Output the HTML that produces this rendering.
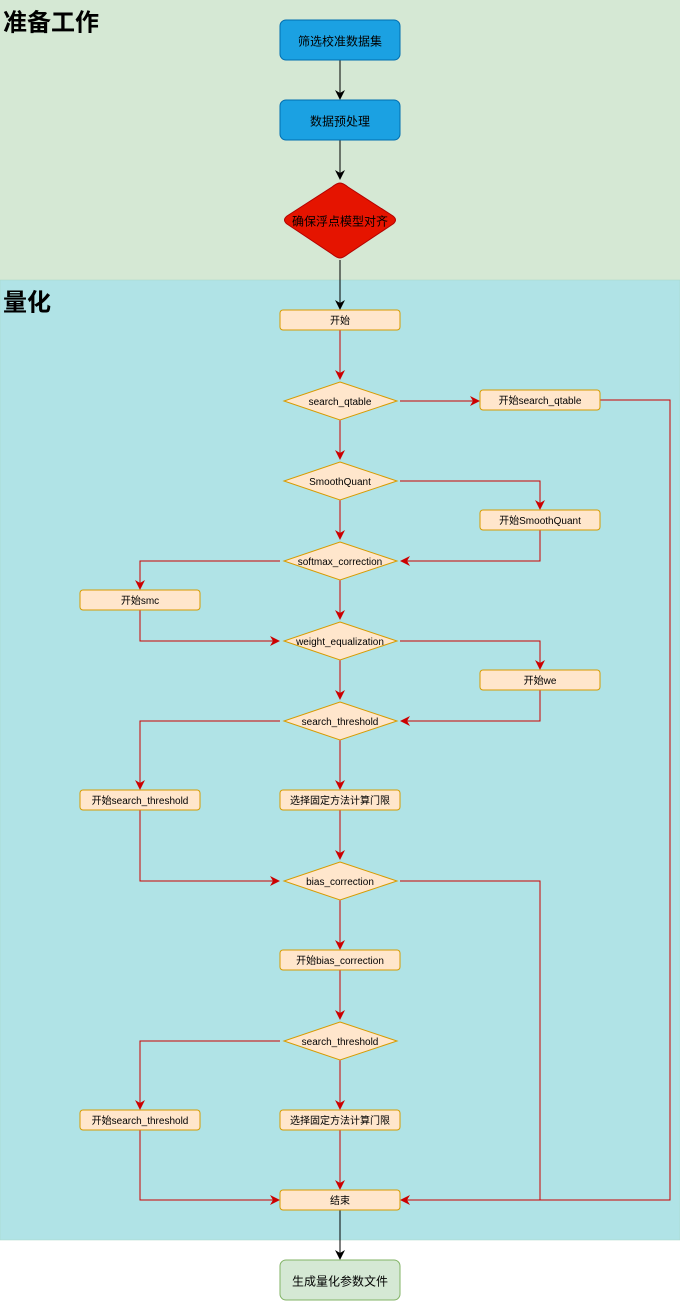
<!DOCTYPE html>
<html><head><meta charset="utf-8"><style>
html,body{margin:0;padding:0;background:#fff}
svg{display:block}
text{font-family:"Liberation Sans","Noto Sans CJK SC",sans-serif;font-size:10px;fill:#000;text-anchor:middle;dominant-baseline:central}
.o{fill:#ffe6cc;stroke:#d79b00;stroke-width:1}
.r{fill:none;stroke:#cc0000;stroke-width:1}
.k{fill:none;stroke:#000;stroke-width:1}
</style></head><body>
<svg width="680" height="1301" viewBox="0 0 680 1301" xmlns="http://www.w3.org/2000/svg">
<defs>
<marker id="ar" viewBox="0 0 10 10" refX="9" refY="5" markerWidth="10" markerHeight="10" orient="auto" markerUnits="userSpaceOnUse"><path d="M0,0 L10,5 L0,10 L3,5 z" fill="#cc0000"/></marker>
<marker id="ak" viewBox="0 0 10 10" refX="9" refY="5" markerWidth="10" markerHeight="10" orient="auto" markerUnits="userSpaceOnUse"><path d="M0,0 L10,5 L0,10 L3,5 z" fill="#000"/></marker>
</defs>
<rect x="0" y="0" width="680" height="280" fill="#d5e8d4"/>
<rect x="0" y="280" width="680" height="960" fill="#b0e3e6" stroke="#a8d8c8" stroke-width="0.5"/>
<g transform="translate(0,1)">
<text x="3" y="22" style="font-size:24px;font-weight:bold;text-anchor:start">准备工作</text>
<text x="3" y="302" style="font-size:24px;font-weight:bold;text-anchor:start">量化</text>
</g>

<path class="k" d="M340,60 V99" marker-end="url(#ak)"/>
<path class="k" d="M340,140 V179" marker-end="url(#ak)"/>
<path class="k" d="M340,260 V309" marker-end="url(#ak)"/>
<path class="k" d="M340,1210 V1259" marker-end="url(#ak)"/>

<path class="r" d="M340,330 V379" marker-end="url(#ar)"/>
<path class="r" d="M400,401 H479" marker-end="url(#ar)"/>
<path class="r" d="M600,400 H670 V1200 H401" marker-end="url(#ar)"/>
<path class="r" d="M340,420 V459" marker-end="url(#ar)"/>
<path class="r" d="M400,481 H540 V509" marker-end="url(#ar)"/>
<path class="r" d="M540,530 V561 H401" marker-end="url(#ar)"/>
<path class="r" d="M340,500 V539" marker-end="url(#ar)"/>
<path class="r" d="M280,561 H140 V589" marker-end="url(#ar)"/>
<path class="r" d="M140,610 V641 H279" marker-end="url(#ar)"/>
<path class="r" d="M340,580 V619" marker-end="url(#ar)"/>
<path class="r" d="M400,641 H540 V669" marker-end="url(#ar)"/>
<path class="r" d="M540,690 V721 H401" marker-end="url(#ar)"/>
<path class="r" d="M340,660 V699" marker-end="url(#ar)"/>
<path class="r" d="M280,721 H140 V789" marker-end="url(#ar)"/>
<path class="r" d="M340,740 V789" marker-end="url(#ar)"/>
<path class="r" d="M140,810 V881 H279" marker-end="url(#ar)"/>
<path class="r" d="M340,810 V859" marker-end="url(#ar)"/>
<path class="r" d="M400,881 H540 V1200"/>
<path class="r" d="M340,900 V949" marker-end="url(#ar)"/>
<path class="r" d="M340,970 V1019" marker-end="url(#ar)"/>
<path class="r" d="M280,1041 H140 V1109" marker-end="url(#ar)"/>
<path class="r" d="M340,1060 V1109" marker-end="url(#ar)"/>
<path class="r" d="M140,1130 V1200 H279" marker-end="url(#ar)"/>
<path class="r" d="M340,1130 V1189" marker-end="url(#ar)"/>

<rect x="280" y="20" width="120" height="40" rx="6" fill="#1ba1e2" stroke="#006eaf"/>
<rect x="280" y="100" width="120" height="40" rx="6" fill="#1ba1e2" stroke="#006eaf"/>
<path d="M340,183 Q343,183 348,187 L393,216 Q398,220 393,224 L348,254 Q343,258 340,258 Q337,258 332,254 L287,224 Q282,220 287,216 L332,187 Q337,183 340,183 z" fill="#e51400" stroke="#b20000"/>

<rect class="o" x="280" y="310" width="120" height="20" rx="3"/>
<path class="o" d="M340,382 L397,401 L340,420 L284,401 z"/>
<path class="o" d="M340,462 L397,481 L340,500 L284,481 z"/>
<path class="o" d="M340,542 L397,561 L340,580 L284,561 z"/>
<path class="o" d="M340,622 L397,641 L340,660 L284,641 z"/>
<path class="o" d="M340,702 L397,721 L340,740 L284,721 z"/>
<path class="o" d="M340,862 L397,881 L340,900 L284,881 z"/>
<path class="o" d="M340,1022 L397,1041 L340,1060 L284,1041 z"/>
<rect class="o" x="480" y="390" width="120" height="20" rx="3"/>
<rect class="o" x="480" y="510" width="120" height="20" rx="3"/>
<rect class="o" x="80" y="590" width="120" height="20" rx="3"/>
<rect class="o" x="480" y="670" width="120" height="20" rx="3"/>
<rect class="o" x="80" y="790" width="120" height="20" rx="3"/>
<rect class="o" x="280" y="790" width="120" height="20" rx="3"/>
<rect class="o" x="280" y="950" width="120" height="20" rx="3"/>
<rect class="o" x="80" y="1110" width="120" height="20" rx="3"/>
<rect class="o" x="280" y="1110" width="120" height="20" rx="3"/>
<rect class="o" x="280" y="1190" width="120" height="20" rx="3"/>
<rect x="280" y="1260" width="120" height="40" rx="6" fill="#d5e8d4" stroke="#82b366"/>

<g transform="translate(0,1.5)">
<text x="340" y="40" style="font-size:12px">筛选校准数据集</text>
<text x="340" y="120" style="font-size:12px">数据预处理</text>
<text x="340" y="220" style="font-size:12px">确保浮点模型对齐</text>
<text x="340" y="320">开始</text>
<text x="340" y="401">search_qtable</text>
<text x="340" y="481">SmoothQuant</text>
<text x="340" y="561">softmax_correction</text>
<text x="340" y="641">weight_equalization</text>
<text x="340" y="721">search_threshold</text>
<text x="340" y="881">bias_correction</text>
<text x="340" y="1041">search_threshold</text>
<text x="540" y="400">开始search_qtable</text>
<text x="540" y="520">开始SmoothQuant</text>
<text x="140" y="600">开始smc</text>
<text x="540" y="680">开始we</text>
<text x="140" y="800">开始search_threshold</text>
<text x="340" y="800">选择固定方法计算门限</text>
<text x="340" y="960">开始bias_correction</text>
<text x="140" y="1120">开始search_threshold</text>
<text x="340" y="1120">选择固定方法计算门限</text>
<text x="340" y="1200">结束</text>
<text x="340" y="1280" style="font-size:12px">生成量化参数文件</text>
</g>
</svg>
</body></html>
